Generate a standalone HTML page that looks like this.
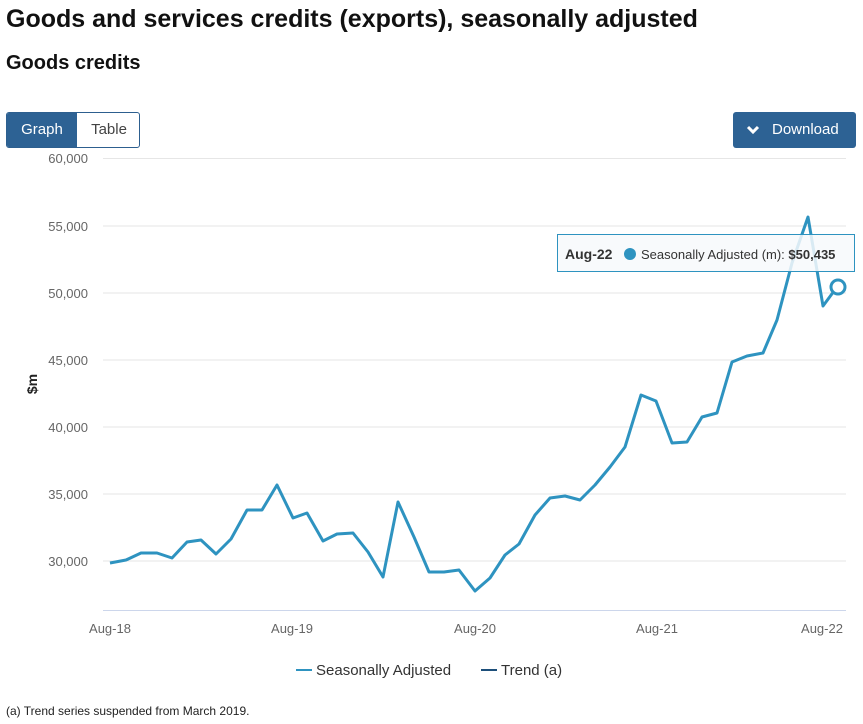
<!DOCTYPE html>
<html><head><meta charset="utf-8"><style>
body{margin:0;width:863px;height:724px;background:#fff;font-family:"Liberation Sans",sans-serif;overflow:hidden;position:relative}
.a{position:absolute;white-space:nowrap}
</style></head><body>
<div class="a" style="left:6px;top:5px;font-size:25px;font-weight:bold;color:#111">Goods and services credits (exports), seasonally adjusted</div>
<div class="a" style="left:6px;top:52px;font-size:20px;font-weight:bold;color:#111">Goods credits</div>
<div class="a" style="left:6px;top:112px;width:134px;height:36px;border:1px solid #2d5f8f;border-radius:3px;box-sizing:border-box;overflow:hidden">
<div class="a" style="left:0;top:0;width:70px;height:36px;background:#2d6294;color:#fff;font-size:15px;line-height:34px;text-align:center">Graph</div>
<div class="a" style="left:70px;top:0;width:64px;height:34px;color:#444;font-size:15px;line-height:34px;text-align:center">Table</div></div>
<div class="a" style="left:733px;top:112px;width:123px;height:36px;background:#2d6294;border-radius:3px;color:#fff;font-size:15px;line-height:36px"><svg style="position:absolute;left:13px;top:13px" width="14" height="10"><polyline points="2,2 7,7 12,2" fill="none" stroke="#fff" stroke-width="3"/></svg><span style="position:absolute;left:39px">Download</span></div>
<svg class="a" style="left:0;top:0" width="863" height="724">
<g stroke="#e6e6e6" stroke-width="1">
<line x1="103" x2="846" y1="158.5" y2="158.5"/><line x1="103" x2="846" y1="226" y2="226"/><line x1="103" x2="846" y1="293" y2="293"/><line x1="103" x2="846" y1="360" y2="360"/><line x1="103" x2="846" y1="427" y2="427"/><line x1="103" x2="846" y1="494" y2="494"/><line x1="103" x2="846" y1="561" y2="561"/></g>
<line x1="103" x2="846" y1="610.5" y2="610.5" stroke="#ccd6eb"/>
<g font-size="13" fill="#666" text-anchor="end">
<text x="88" y="163">60,000</text><text x="88" y="231">55,000</text><text x="88" y="298">50,000</text><text x="88" y="365">45,000</text><text x="88" y="432">40,000</text><text x="88" y="499">35,000</text><text x="88" y="566">30,000</text></g>
<text transform="translate(37,384) rotate(-90)" font-size="14" font-weight="bold" fill="#222" text-anchor="middle">$m</text>
<g font-size="13" fill="#666" text-anchor="middle">
<text x="110" y="633">Aug-18</text><text x="292" y="633">Aug-19</text><text x="475" y="633">Aug-20</text><text x="657" y="633">Aug-21</text><text x="822" y="633">Aug-22</text></g>
<polyline fill="none" stroke="#2e93c0" stroke-width="3" stroke-linejoin="round" points="110,563 126,560 141,553 157,553 172,558 187,542 201,540 216,554 231,539 247,510 262,510 277,485 293,518 307,513 323,541 337,534 353,533 368,552 383,577 398,502 414,537 429,572 444,572 459,570 475,591 490,578 505,555 519,544 535,515 550,498 565,496 580,500 595,485 610,467 625,447 641,395 656,401 672,443 687,442 702,417 717,413 732,362 747,356 763,353 777,320 792,263 808,217 823,306 837,287"/>
<rect x="557.5" y="234.5" width="297" height="37" fill="#f7f9fb" fill-opacity="0.85" stroke="#2e93c0"/>
<circle cx="838" cy="287" r="7" fill="#fff" stroke="#2e93c0" stroke-width="3"/>
<text x="565" y="259" font-size="14" font-weight="bold" fill="#333">Aug-22</text>
<circle cx="630" cy="254" r="6" fill="#2e93c0"/>
<text x="641" y="259" font-size="13" fill="#333">Seasonally Adjusted (m): <tspan font-weight="bold">$50,435</tspan></text>
<line x1="296" x2="312" y1="670" y2="670" stroke="#2e93c0" stroke-width="2"/>
<text x="316" y="675" font-size="15" fill="#333">Seasonally Adjusted</text>
<line x1="481" x2="497" y1="670" y2="670" stroke="#1d4f7a" stroke-width="2"/>
<text x="501" y="675" font-size="15" fill="#333">Trend (a)</text>
</svg>
<div class="a" style="left:6px;top:704px;font-size:12px;color:#222">(a) Trend series suspended from March 2019.</div>
</body></html>
